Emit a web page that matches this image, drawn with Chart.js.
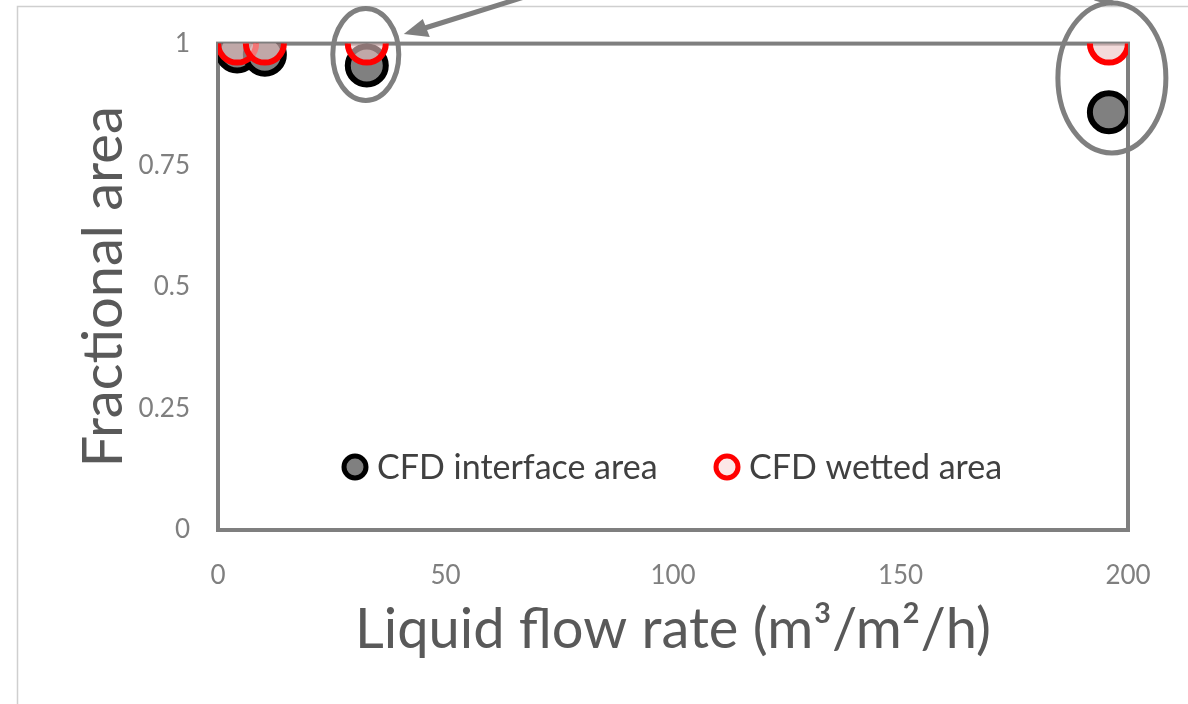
<!DOCTYPE html>
<html>
<head>
<meta charset="utf-8">
<script src="https://cdn.jsdelivr.net/npm/chart.js@4.4.1/dist/chart.umd.min.js"></script>
<style>
  html, body { margin: 0; padding: 0; background: #ffffff; }
  #wrap { width: 1188px; height: 704px; }
</style>
</head>
<body>
<div id="wrap"><canvas id="c" width="1188" height="704"></canvas></div>
<script>
// ---- data ----
const flowRate = [4.2, 10.3, 32.7, 195.8];          // m3/m2/h
const interfaceArea = [0.984, 0.977, 0.955, 0.859];   // CFD interface area
const wettedArea = [1.0, 1.0, 1.0, 1.0];              // CFD wetted area
const seriesNames = ['CFD interface area', 'CFD wetted area'];
const xTicks = [0, 50, 100, 150, 200];
const yTicks = [0, 0.25, 0.5, 0.75, 1];
const circledIdx = [2, 3];   // points highlighted with ellipses

const FONT = 'Lato, "Open Sans", sans-serif';
const GREY = '#7f7f7f';

const toPts = (xs, ys) => xs.map((x, i) => ({ x: x, y: ys[i] }));

const framePlugin = {
  id: 'frame',
  beforeDatasetsDraw(chart) {
    const { ctx, chartArea: a } = chart;
    ctx.save();
    // faint outer picture frame
    ctx.strokeStyle = '#cfcfcf';
    ctx.lineWidth = 1.5;
    ctx.beginPath();
    ctx.moveTo(17.5, 704); ctx.lineTo(17.5, 6.5); ctx.lineTo(1188, 6.5);
    ctx.stroke();
    // plot area box
    ctx.strokeStyle = GREY;
    ctx.lineWidth = 4;
    ctx.strokeRect(a.left, a.top, a.right - a.left, a.bottom - a.top);
    ctx.restore();
  },
  afterDraw(chart) {
    const { ctx, chartArea: a } = chart;
    const xs = chart.scales.x, ys = chart.scales.y;
    ctx.save();
    // legend inside plot
    const ly = a.bottom - 63;
    const items = [
      { x: a.left + 137, fill: '#808080', stroke: '#000000', text: seriesNames[0] },
      { x: a.left + 509, fill: 'rgba(250,215,215,0.6)', stroke: '#ff0000', text: seriesNames[1] }
    ];
    ctx.font = '34px ' + FONT;
    ctx.textBaseline = 'middle';
    ctx.textAlign = 'left';
    items.forEach(it => {
      ctx.beginPath();
      ctx.arc(it.x, ly, 11, 0, Math.PI * 2);
      ctx.fillStyle = it.fill; ctx.fill();
      ctx.lineWidth = 5; ctx.strokeStyle = it.stroke; ctx.stroke();
      ctx.fillStyle = '#404040';
      ctx.fillText(it.text, it.x + 22, ly + 1);
    });
    // ellipses around highlighted points
    ctx.strokeStyle = GREY;
    ctx.lineWidth = 5;
    const sizes = [[33, 46], [54, 75]];
    circledIdx.forEach((idx, k) => {
      const cx = xs.getPixelForValue(flowRate[idx]) + (k === 1 ? 3 : -1);
      const cy = (ys.getPixelForValue(interfaceArea[idx]) + ys.getPixelForValue(wettedArea[idx])) / 2;
      ctx.beginPath();
      ctx.ellipse(cx, cy, sizes[k][0], sizes[k][1], 0, 0, Math.PI * 2);
      ctx.stroke();
    });
    // arrow pointing at first ellipse
    const e1x = xs.getPixelForValue(flowRate[circledIdx[0]]) + 37;
    const tip = { x: e1x, y: 34 };
    ctx.beginPath();
    ctx.moveTo(tip.x + 18, tip.y - 5);
    ctx.lineTo(tip.x + 130, tip.y - 40);
    ctx.stroke();
    ctx.fillStyle = GREY;
    ctx.beginPath();
    ctx.moveTo(tip.x, tip.y);
    ctx.lineTo(tip.x + 19, tip.y - 15);
    ctx.lineTo(tip.x + 26, tip.y + 3);
    ctx.closePath();
    ctx.fill();
    // partial arrow at top of second ellipse
    const e2x = xs.getPixelForValue(flowRate[circledIdx[1]]);
    ctx.beginPath();
    ctx.moveTo(e2x - 14, -2);
    ctx.lineTo(e2x + 4, 3);
    ctx.stroke();
    ctx.restore();
  }
};

new Chart(document.getElementById('c'), {
  type: 'scatter',
  data: {
    datasets: [
      {
        label: seriesNames[0],
        data: toPts(flowRate, interfaceArea),
        backgroundColor: '#808080',
        borderColor: '#000000',
        borderWidth: 6,
        pointRadius: 19,
        pointHoverRadius: 19,
        order: 2
      },
      {
        label: seriesNames[1],
        data: toPts(flowRate, wettedArea),
        backgroundColor: 'rgba(235,195,195,0.6)',
        borderColor: '#ff0000',
        borderWidth: 6,
        pointRadius: 19,
        pointHoverRadius: 19,
        order: 1
      }
    ]
  },
  options: {
    responsive: false,
    animation: false,
    devicePixelRatio: 1,
    layout: { autoPadding: false, padding: { left: 0, right: 60, top: 42, bottom: 0 } },
    plugins: { legend: { display: false }, tooltip: { enabled: false } },
    elements: { point: { hitRadius: 0 } },
    scales: {
      x: {
        type: 'linear',
        min: xTicks[0], max: xTicks[xTicks.length - 1],
        afterBuildTicks: s => { s.ticks = xTicks.map(v => ({ value: v })); },
        afterFit: s => { s.height = 174; },
        grid: { display: false, drawTicks: false },
        border: { display: false },
        ticks: { color: GREY, font: { family: FONT, size: 26 }, padding: 30, maxRotation: 0,
                 callback: v => String(v) },
        title: {
          display: true,
          text: 'Liquid flow rate (m\u00B3/m\u00B2/h)',
          color: '#595959',
          font: { family: FONT, size: 56 },
          padding: { top: 0, bottom: 40 }
        }
      },
      y: {
        type: 'linear',
        min: yTicks[0], max: yTicks[yTicks.length - 1],
        afterBuildTicks: s => { s.ticks = yTicks.map(v => ({ value: v })); },
        afterFit: s => { s.width = 218; },
        grid: { display: false, drawTicks: false },
        border: { display: false },
        ticks: { color: GREY, font: { family: FONT, size: 26 }, padding: 28,
                 callback: v => String(v) },
        title: {
          display: true,
          text: 'Fractional area',
          color: '#595959',
          font: { family: FONT, size: 56 },
          padding: { top: 70, bottom: 0 }
        }
      }
    }
  },
  plugins: [framePlugin]
});
</script>
</body>
</html>
